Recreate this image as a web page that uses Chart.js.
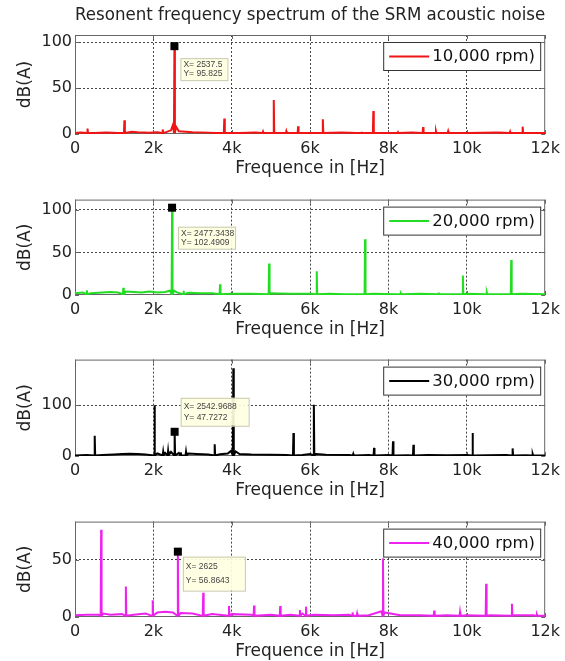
<!DOCTYPE html>
<html>
<head>
<meta charset="utf-8">
<script src="https://cdn.jsdelivr.net/npm/chart.js@4.4.1/dist/chart.umd.min.js"></script>
<style>
  html, body { margin: 0; padding: 0; background: #fff; overflow: hidden; }
  #wrap { position: relative; width: 565px; height: 661px; overflow: hidden; }
  canvas { position: absolute; left: 0; }
</style>
</head>
<body>
<div id="wrap">
  <canvas id="c1" width="565" height="182" style="top:0px"></canvas>
  <canvas id="c2" width="565" height="156" style="top:187px"></canvas>
  <canvas id="c3" width="565" height="157" style="top:347px"></canvas>
  <canvas id="c4" width="565" height="156" style="top:509px"></canvas>
</div>
<script>
// axis ticks
const freqTicks = [0, 2000, 4000, 6000, 8000, 10000, 12000];
const freqTickLabels = ['0', '2k', '4k', '6k', '8k', '10k', '12k'];
const yTicks = [[0, 50, 100], [0, 50, 100], [0, 100], [0, 50]];
const yMaxes = [108, 112, 190, 83];

const seriesLabels = ['10,000 rpm)', '20,000 rpm)', '30,000 rpm)', '40,000 rpm)'];

// spectral peaks (Hz, dB(A))
const peakF10 = [320, 1261, 2239, 2537.5, 3811, 4799, 5073, 5393, 5694, 6325, 7312, 7614, 8244, 8884, 9213, 9524, 11105, 11425];
const peakV10 = [6, 15, 5, 95.825, 17, 2.5, 37, 3, 8.5, 16, 2.5, 25, 2, 7.5, 3, 3, 2.5, 8];
const peakF20 = [302, 1234, 2477.3438, 2769, 3702, 4954, 6170, 6904, 7403, 8317, 9277, 9899, 10511, 11133];
const peakV20 = [5.5, 8.5, 102.4909, 5, 12.5, 37, 28, 2, 65.5, 2, 3, 23, 3, 41];
const peakF30 = [503, 2029, 2250, 2376, 2542.9688, 2700, 2833, 3565, 4040, 5575, 6096, 7102, 7632, 8116, 8637, 10145, 11169, 11681];
const peakV30 = [40, 100, 8, 10, 47.7272, 7, 8, 23, 173, 45.5, 101, 4, 16, 29, 22, 45.5, 15, 4];
const peakF40 = [667, 1298, 1983, 2625, 3272, 3930, 4570, 5237, 5740, 5895, 7084, 7200, 7860, 9167, 9826, 10493, 11151, 11791];
const peakV40 = [76, 26.5, 14.5, 56.8643, 21, 9.5, 10, 9.5, 6, 9, 4, 3, 51, 5.5, 4.2, 29, 11.5, 2];

// noise floor between the peaks
const noiseF10 = [0, 150, 500, 800, 1100, 1450, 1600, 1900, 2100, 2450, 2500, 2580, 2650, 3000, 3400, 3600, 4200, 4600, 5500, 6000, 6800, 7200, 8000, 8600, 9400, 10000, 10800, 11500, 12000];
const noiseV10 = [1, 1.5, 1, 1.5, 1, 2.5, 2, 1.5, 2, 4, 10, 8, 3, 2, 1.5, 1, 1, 1.5, 1, 1, 1.5, 1, 1, 1.5, 1, 1, 1.5, 1, 1];
const noiseF20 = [0, 200, 400, 700, 900, 1100, 1300, 1500, 1700, 1900, 2100, 2300, 2420, 2530, 2600, 2900, 3200, 3500, 4000, 4500, 5000, 5500, 6000, 6500, 7000, 7600, 8200, 8800, 9400, 10000, 10700, 11400, 12000];
const noiseV20 = [2, 3, 2, 3, 3.5, 3, 4, 3.5, 3, 4, 3, 3.5, 5, 5, 3, 2.5, 2, 2, 1.5, 1.5, 2, 1.5, 1.5, 1.5, 1, 1.5, 1, 1.5, 1, 1.5, 1, 1.5, 1];
const noiseF30 = [0, 300, 700, 1000, 1200, 1400, 1600, 1800, 2100, 2300, 2450, 2650, 2900, 3100, 3400, 3700, 3900, 3980, 4100, 4200, 4500, 5000, 5400, 5800, 6000, 6150, 6400, 7000, 7500, 8000, 8500, 9000, 9500, 10000, 10500, 11000, 11500, 12000];
const noiseV30 = [1, 2, 2, 3, 4, 4.5, 4, 3, 5, 6, 8, 6, 5, 4, 3, 3.5, 5, 10, 9, 4, 3, 2.5, 2, 2, 4, 4, 2.5, 2, 2, 2, 1.5, 2, 1.5, 2, 1.5, 2, 1.5, 1];
const noiseF40 = [0, 300, 600, 720, 900, 1200, 1500, 1800, 2100, 2300, 2500, 2700, 3000, 3500, 4000, 4500, 5000, 5500, 5800, 6100, 6600, 7000, 7500, 7820, 7900, 8300, 8800, 9500, 10000, 10600, 11200, 11700, 12000];
const noiseV40 = [1.5, 2, 2, 3, 2, 2.5, 2, 3, 4, 4.5, 4, 3.5, 3, 2.5, 2.5, 2, 2, 2, 3, 2, 1.5, 2, 1.5, 5, 4, 1.5, 1.5, 1.5, 1.5, 1.5, 1.5, 1.5, 1];

// data tips shown on the figure
const tipX = [2537.5, 2477.3438, 2542.9688, 2625];
const tipY = [95.825, 102.4909, 47.7272, 56.8643];

const FONT = '"DejaVu Sans", sans-serif';
const colors = ['#f01414', '#22dd22', '#000000', '#ee22ee'];
// tip box placement relative to the marker
const tipBoxes = [
  { dx: 6, dy: 12, w: 47, h: 22 },
  { dx: 6, dy: 19, w: 57, h: 22 },
  { dx: 6, dy: -34, w: 68, h: 28 },
  { dx: 5, dy: 5, w: 62, h: 34 }
];

function trace(nf, nv, pf, pv) {
  const pts = nf.map((f, i) => ({ x: f, y: nv[i] }));
  pf.forEach((f, i) => {
    pts.push({ x: f - 12, y: 1 }, { x: f, y: pv[i] }, { x: f + 12, y: 1 });
  });
  return pts.sort((a, b) => a.x - b.x);
}

const traces = [
  trace(noiseF10, noiseV10, peakF10, peakV10),
  trace(noiseF20, noiseV20, peakF20, peakV20),
  trace(noiseF30, noiseV30, peakF30, peakV30),
  trace(noiseF40, noiseV40, peakF40, peakV40)
];

const matlabBox = {
  id: 'matlabBox',
  beforeDatasetsDraw(chart) {
    const { ctx, chartArea: a, scales } = chart;
    ctx.save();
    ctx.strokeStyle = '#666';
    ctx.lineWidth = 1;
    ctx.strokeRect(a.left + 0.5, a.top + 0.5, a.width - 1, a.height - 1);
    ctx.beginPath();
    scales.x.ticks.forEach(t => {
      const px = Math.round(scales.x.getPixelForValue(t.value)) + 0.5;
      ctx.moveTo(px, a.bottom); ctx.lineTo(px, a.bottom - 4);
      ctx.moveTo(px, a.top); ctx.lineTo(px, a.top + 4);
    });
    scales.y.ticks.forEach(t => {
      const py = Math.round(scales.y.getPixelForValue(t.value)) + 0.5;
      ctx.moveTo(a.left, py); ctx.lineTo(a.left + 4, py);
      ctx.moveTo(a.right, py); ctx.lineTo(a.right - 4, py);
    });
    ctx.stroke();
    ctx.restore();
  },
  afterDatasetsDraw(chart, args, opts) {
    const { ctx, chartArea: a, scales } = chart;
    const ds = chart.data.datasets[0];
    const i = opts.index;
    ctx.save();
    // legend box
    const w = 157, h = 28;
    const x0 = a.right - 5 - w, y0 = a.top + 7;
    ctx.fillStyle = '#fff';
    ctx.fillRect(x0, y0, w, h);
    ctx.strokeStyle = '#333';
    ctx.lineWidth = 1;
    ctx.strokeRect(x0 + 0.5, y0 + 0.5, w, h);
    ctx.strokeStyle = ds.borderColor;
    ctx.lineWidth = 2;
    ctx.beginPath();
    ctx.moveTo(x0 + 6, y0 + h / 2 + 0.5);
    ctx.lineTo(x0 + 46, y0 + h / 2 + 0.5);
    ctx.stroke();
    ctx.fillStyle = '#111';
    ctx.font = '16.5px ' + FONT;
    ctx.textBaseline = 'middle';
    ctx.fillText(ds.label, x0 + 49, y0 + h / 2 + 1);

    // data tip
    const px = scales.x.getPixelForValue(tipX[i]);
    const py = scales.y.getPixelForValue(tipY[i]);
    const b = tipBoxes[i];
    ctx.fillStyle = 'rgba(255,255,225,0.92)';
    ctx.fillRect(px + b.dx, py + b.dy, b.w, b.h);
    ctx.strokeStyle = '#c8c8b0';
    ctx.lineWidth = 1;
    ctx.strokeRect(px + b.dx + 0.5, py + b.dy + 0.5, b.w, b.h);
    ctx.fillStyle = '#000';
    ctx.fillRect(px - 4, py - 4, 8, 8);
    ctx.fillStyle = '#444';
    ctx.font = '8.5px "Liberation Sans", sans-serif';
    ctx.fillText('X= ' + tipX[i], px + b.dx + 3, py + b.dy + b.h * 0.3);
    ctx.fillText('Y= ' + tipY[i], px + b.dx + 3, py + b.dy + b.h * 0.72);
    ctx.restore();
  }
};

function makeChart(id, i) {
  const edge = v => (v === 0 || v === 12000);
  return new Chart(document.getElementById(id), {
    type: 'scatter',
    data: {
      datasets: [{
        label: seriesLabels[i],
        data: traces[i],
        showLine: true,
        borderColor: colors[i],
        backgroundColor: colors[i],
        borderWidth: 2,
        pointRadius: 0,
        tension: 0
      }]
    },
    options: {
      responsive: false,
      animation: false,
      layout: { padding: { top: i === 0 ? 0 : 10, right: 18, left: 0, bottom: 0 } },
      plugins: {
        legend: { display: false },
        tooltip: { enabled: false },
        title: {
          display: i === 0,
          text: 'Resonent frequency spectrum of the SRM acoustic noise',
          fullSize: false,
          color: '#222',
          font: { family: FONT, size: 17.5, weight: 'normal' },
          padding: { top: 5, bottom: 9 }
        },
        matlabBox: { index: i }
      },
      scales: {
        x: {
          type: 'linear',
          min: 0,
          max: 12000,
          afterBuildTicks: s => { s.ticks = freqTicks.map(v => ({ value: v })); },
          afterFit: s => { s.height = 48; },
          ticks: {
            padding: 5,
            color: '#222',
            font: { family: FONT, size: 16 },
            maxRotation: 0,
            callback: (v) => freqTickLabels[freqTicks.indexOf(v)]
          },
          grid: {
            drawTicks: false,
            color: c => (c.tick && edge(c.tick.value)) ? 'rgba(0,0,0,0)' : '#444',
            lineWidth: 1
          },
          border: { display: false, dash: [2, 2] },
          title: {
            display: true,
            text: 'Frequence in [Hz]',
            color: '#222',
            font: { family: FONT, size: 17 },
            padding: { top: 0, bottom: 3 }
          }
        },
        y: {
          min: 0,
          max: yMaxes[i],
          afterBuildTicks: s => { s.ticks = yTicks[i].map(v => ({ value: v })); },
          afterFit: s => { s.width = 75; },
          ticks: {
            padding: 3,
            color: '#222',
            font: { family: FONT, size: 16 }
          },
          grid: {
            drawTicks: false,
            color: c => (c.tick && c.tick.value === 0) ? 'rgba(0,0,0,0)' : '#444',
            lineWidth: 1
          },
          border: { display: false, dash: [2, 2] },
          title: {
            display: true,
            text: 'dB(A)',
            color: '#222',
            font: { family: FONT, size: 17 },
            padding: { top: 15, bottom: 0 }
          }
        }
      }
    },
    plugins: [matlabBox]
  });
}

makeChart('c1', 0);
makeChart('c2', 1);
makeChart('c3', 2);
makeChart('c4', 3);
</script>
</body>
</html>
